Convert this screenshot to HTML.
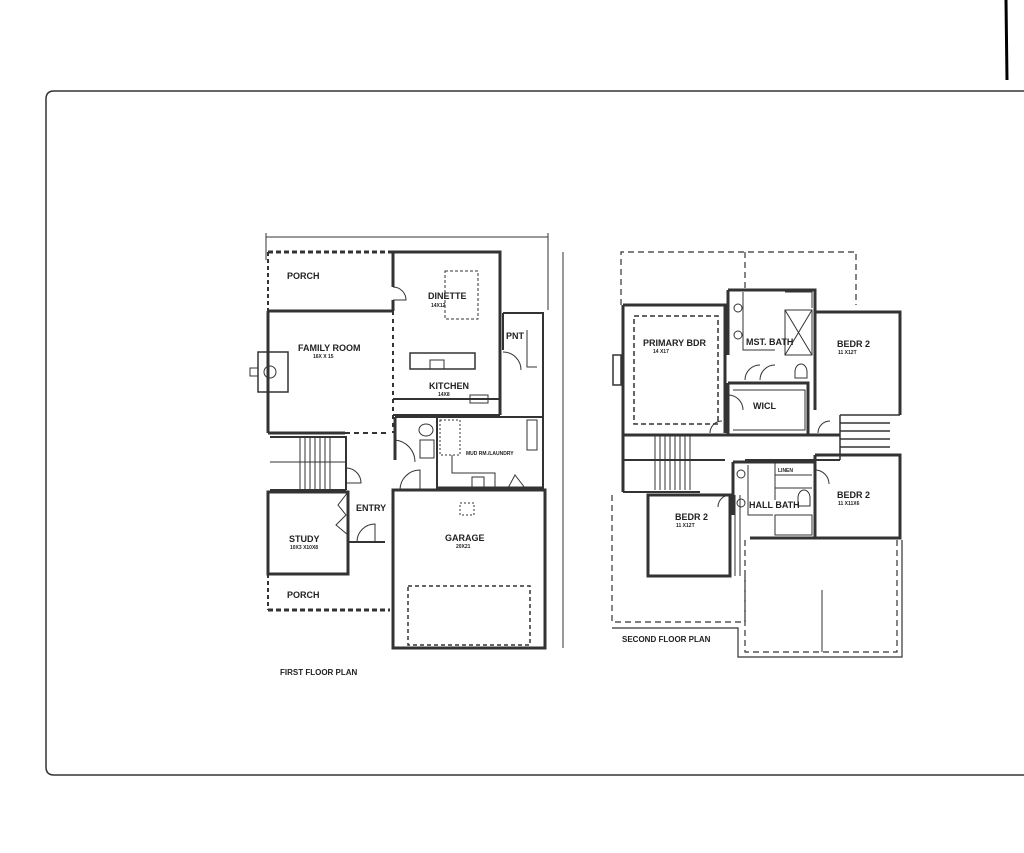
<!DOCTYPE html>
<html><head><meta charset="utf-8"><style>
html,body{margin:0;padding:0;background:#fff;width:1024px;height:853px;overflow:hidden}
svg{display:block}
text{font-family:"Liberation Sans",sans-serif;font-weight:bold;fill:#222}
</style></head><body>
<svg width="1024" height="853" viewBox="0 0 1024 853" xmlns="http://www.w3.org/2000/svg">
<rect x="0" y="0" width="1024" height="853" fill="#fff"/>
<line x1="1006" y1="0" x2="1007" y2="80" stroke="#000" stroke-width="3"/>
<path d="M1030 91 L54 91 Q46 91 46 99 L46 767 Q46 775 54 775 L1030 775" fill="none" stroke="#333" stroke-width="1.5"/>

<g fill="none" stroke="#333">
<!-- FIRST FLOOR -->
<line x1="266" y1="237" x2="548" y2="237" stroke-width="1"/>
<line x1="266" y1="233" x2="266" y2="260" stroke-width="1"/>
<line x1="548" y1="233" x2="548" y2="310" stroke-width="1"/>
<line x1="563" y1="252" x2="563" y2="648" stroke-width="1"/>
<!-- porch top -->
<path d="M268 252 H393" stroke-width="3" stroke-dasharray="5 3"/>
<path d="M268 252 V311" stroke-width="2" stroke-dasharray="4 3"/>
<path d="M268 311 H393" stroke-width="3"/>
<!-- dinette/kitchen -->
<path d="M393 252 H500 V415" stroke-width="3"/>
<path d="M393 252 V287 M393 300 V311" stroke-width="3"/>
<path d="M393 311 V433" stroke-width="2" stroke-dasharray="4 4"/>
<path d="M393 287 A13 13 0 0 1 406 300 L393 300" stroke-width="1"/>
<rect x="445" y="271" width="33" height="48" stroke-width="1" stroke-dasharray="3 2"/>
<rect x="410" y="353" width="65" height="16" stroke-width="1.5"/>
<rect x="430" y="360" width="14" height="9" stroke-width="1"/>
<path d="M393 399 H500 M393 415 H500" stroke-width="2"/>
<rect x="470" y="395" width="18" height="8" stroke-width="1"/>
<!-- PNT -->
<path d="M503 313 H543 V415" stroke-width="2"/>
<path d="M503 313 V350" stroke-width="2"/>
<path d="M527 330 V367 H537" stroke-width="1"/>
<path d="M503 352 A18 18 0 0 1 521 370" stroke-width="1"/>
<path d="M543 415 V490" stroke-width="2"/>
<rect x="527" y="420" width="10" height="30" stroke-width="1"/>
<!-- family room -->
<path d="M268 311 V433" stroke-width="3"/>
<path d="M268 433 H345" stroke-width="3"/>
<path d="M345 433 H390" stroke-width="2" stroke-dasharray="5 4"/>
<rect x="258" y="352" width="30" height="40" stroke-width="1.5"/>
<circle cx="270" cy="372" r="6" stroke-width="1"/>
<rect x="250" y="368" width="8" height="8" stroke-width="1"/>
<!-- stairs -->
<path d="M270 437 H346 V490 M270 490 H346" stroke-width="2"/>
<path d="M300 437 V490 M305 437 V490 M310 437 V490 M315 437 V490 M320 437 V490 M325 437 V490 M330 437 V490" stroke-width="1"/>
<path d="M270 462 H345" stroke-width="1"/>
<path d="M346 468 A15 15 0 0 1 361 483 L346 483" stroke-width="1"/>
<!-- study -->
<path d="M268 492 H348 V574 H268 Z" stroke-width="3"/>
<path d="M348 492 L338 505 L346 515 L336 525 L348 535" stroke-width="1"/>
<path d="M357 542 A18 18 0 0 1 375 524 V542" stroke-width="1"/>
<path d="M348 542 H385" stroke-width="2"/>
<!-- porch bottom -->
<path d="M268 574 V610" stroke-width="2" stroke-dasharray="4 3"/>
<path d="M268 610 H390" stroke-width="3" stroke-dasharray="5 3"/>
<!-- hall/bath -->
<path d="M395 417 H437 V490" stroke-width="2"/>
<path d="M395 417 V460" stroke-width="3"/>
<path d="M395 440 A22 22 0 0 1 415 462" stroke-width="1"/>
<path d="M400 490 A20 20 0 0 1 420 470 V490" stroke-width="1"/>
<ellipse cx="426" cy="430" rx="7" ry="6" stroke-width="1"/>
<rect x="420" y="440" width="14" height="18" stroke-width="1"/>
<!-- mud/laundry -->
<path d="M437 417 H543" stroke-width="2"/>
<rect x="440" y="420" width="20" height="35" stroke-width="1" stroke-dasharray="2 2"/>
<path d="M452 455 V473 H495 V487" stroke-width="1"/>
<rect x="472" y="477" width="12" height="10" stroke-width="1"/>
<path d="M508 488 L515 475 L525 488 Z" stroke-width="1"/>
<path d="M437 488 H543" stroke-width="3"/>
<!-- garage -->
<path d="M393 490 H545 V648 H393 Z" stroke-width="3"/>
<rect x="408" y="586" width="122" height="59" stroke-width="1.5" stroke-dasharray="4 3"/>
<rect x="460" y="503" width="14" height="12" stroke-width="1" stroke-dasharray="2 2"/>

<!-- SECOND FLOOR -->
<path d="M621 305 V252 H856 V305" stroke-width="1.2" stroke-dasharray="6 4"/>
<path d="M745 252 V290" stroke-width="1.2" stroke-dasharray="6 4"/>
<path d="M623 305 H725 V433" stroke-width="3"/>
<path d="M623 305 V492" stroke-width="3"/>
<rect x="613" y="355" width="8" height="30" stroke-width="1.5"/>
<rect x="634" y="316" width="84" height="108" stroke-width="1.5" stroke-dasharray="5 3"/>
<!-- mst bath -->
<path d="M728 290 H815 V380 M728 290 V355" stroke-width="3"/>
<path d="M743 292 V350 H775" stroke-width="1"/>
<circle cx="738" cy="308" r="4" stroke-width="1"/>
<circle cx="738" cy="335" r="4" stroke-width="1"/>
<path d="M785 310 H812 V355 H785 Z M785 310 L812 355 M812 310 L785 355" stroke-width="1"/>
<path d="M785 292 H812 V308" stroke-width="1"/>
<path d="M795 372 A6 8 0 0 1 807 372 V378 H795 Z" stroke-width="1"/>
<path d="M745 380 A15 15 0 0 1 760 365 M760 380 A15 15 0 0 1 775 365" stroke-width="1"/>
<!-- WICL -->
<path d="M728 383 H808 V435" stroke-width="3"/>
<path d="M728 383 V435" stroke-width="3"/>
<path d="M733 390 H805 V430 H733" stroke-width="1"/>
<path d="M728 395 A15 15 0 0 1 743 410" stroke-width="1"/>
<!-- bedr2 top right -->
<path d="M815 312 H900 V415 M815 312 V410" stroke-width="3"/>
<!-- hall -->
<path d="M623 435 H840" stroke-width="3"/>
<path d="M623 460 H725 M745 460 H840" stroke-width="2"/>
<path d="M840 415 H900 M840 423 H890 M840 431 H890 M840 439 H890 M840 447 H890 M840 455 H900" stroke-width="1.5"/>
<path d="M840 415 V460" stroke-width="1.5"/>
<path d="M655 435 V490 M660 435 V490 M665 435 V490 M670 435 V490 M675 435 V490 M680 435 V490 M685 435 V490 M690 435 V490" stroke-width="1"/>
<path d="M623 492 H700" stroke-width="2"/>
<path d="M710 433 A12 12 0 0 1 722 421 M818 433 A12 12 0 0 1 830 421" stroke-width="1"/>
<!-- bedr2 bottom left -->
<path d="M648 495 H730 V576 H648 Z" stroke-width="3"/>
<path d="M735 495 V576 M740 495 V576" stroke-width="1"/>
<path d="M730 495 A12 12 0 0 0 718 507" stroke-width="1"/>
<!-- hall bath -->
<path d="M733 462 H815 V538 H750 M733 462 V515" stroke-width="3"/>
<path d="M748 465 V515 H773" stroke-width="1"/>
<circle cx="741" cy="474" r="4" stroke-width="1"/>
<circle cx="741" cy="503" r="4" stroke-width="1"/>
<path d="M775 462 V500 M775 475 H812 M775 488 H812" stroke-width="1"/>
<rect x="775" y="515" width="37" height="20" stroke-width="1"/>
<path d="M798 498 A6 8 0 0 1 810 498 V506 H798 Z" stroke-width="1"/>
<!-- bedr2 right -->
<path d="M815 455 H900 V538 H815 V455" stroke-width="3"/>
<path d="M815 470 A14 14 0 0 1 829 484" stroke-width="1"/>
<!-- dashed lower -->
<path d="M612 495 V622 H745 V576" stroke-width="1.2" stroke-dasharray="6 4"/>
<path d="M612 628 H738 V657 H902 V540" stroke-width="1.2"/>
<path d="M745 540 V652 H897 V540" stroke-width="1.2" stroke-dasharray="6 4"/>
<path d="M822 590 V652" stroke-width="1"/>
</g>

<g font-size="9">
<text x="287" y="279">PORCH</text>
<text x="428" y="299">DINETTE</text>
<text x="298" y="351">FAMILY ROOM</text>
<text x="506" y="339">PNT</text>
<text x="429" y="389">KITCHEN</text>
<text x="356" y="511">ENTRY</text>
<text x="289" y="542">STUDY</text>
<text x="445" y="541">GARAGE</text>
<text x="287" y="598">PORCH</text>
<text x="280" y="675" font-size="8">FIRST FLOOR PLAN</text>
<text x="643" y="346">PRIMARY BDR</text>
<text x="746" y="345">MST. BATH</text>
<text x="837" y="347">BEDR 2</text>
<text x="753" y="409">WICL</text>
<text x="749" y="508">HALL BATH</text>
<text x="675" y="520">BEDR 2</text>
<text x="837" y="498">BEDR 2</text>
<text x="622" y="642" font-size="8">SECOND FLOOR PLAN</text>
</g>
<g font-size="5" font-weight="normal">
<text x="431" y="307">14X12</text>
<text x="313" y="358">16X X 15</text>
<text x="438" y="396">14X8</text>
<text x="290" y="549">10X3 X10X8</text>
<text x="456" y="548">20X21</text>
<text x="466" y="455">MUD RM./LAUNDRY</text>
<text x="653" y="353">14 X17</text>
<text x="838" y="354">11 X12T</text>
<text x="838" y="505">11 X11X6</text>
<text x="676" y="527">11 X12T</text>
<text x="778" y="472">LINEN</text>
</g>
</svg>
</body></html>
